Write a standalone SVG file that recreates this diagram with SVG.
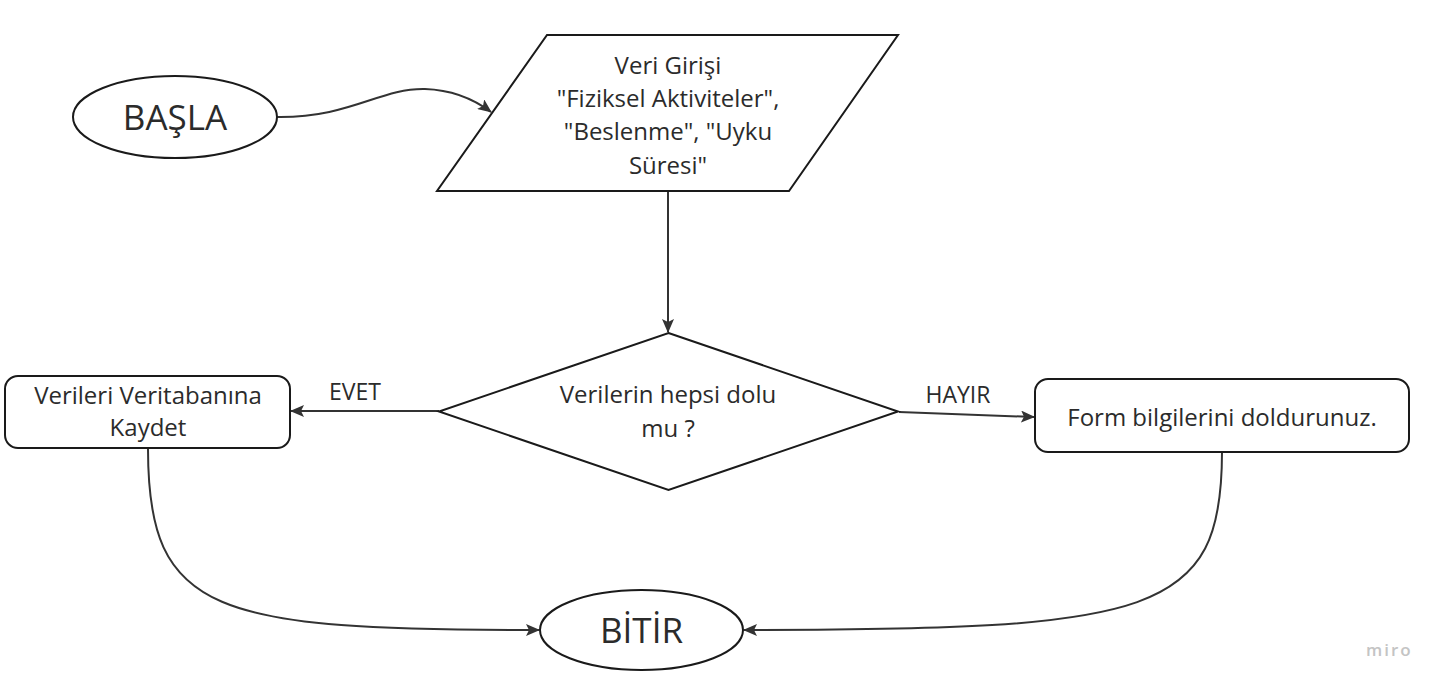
<svg xmlns="http://www.w3.org/2000/svg" width="1446" height="691" viewBox="0 0 1446 691">
<style>
.shape{fill:#ffffff;stroke:#1a1a1a;stroke-width:2}
.t{font-family:"Open Sans","Liberation Sans",sans-serif;font-size:24px;fill:#2b2b2b;text-anchor:middle}
.lbl{font-size:23px}
.big{font-size:35px}
.conn{fill:none;stroke:#333333;stroke-width:2}
.wm{font-family:"Open Sans","Liberation Sans",sans-serif;font-size:17px;font-weight:600;fill:#c4c4c4;letter-spacing:2px}
</style>
<defs>
<marker id="arr" viewBox="0 0 14 12" refX="13" refY="6" markerWidth="14" markerHeight="12" markerUnits="userSpaceOnUse" orient="auto">
<path d="M0,0 L14,6 L0,12 L3,6 Z" fill="#333333"/>
</marker>
</defs>
<rect width="1446" height="691" fill="#ffffff"/>
<g id="connectors">
<path class="conn" d="M277,117 C350,118 380,88 425,89 C455,90 475,100 491,112" marker-end="url(#arr)"/>
<path class="conn" d="M668,192 L668,332" marker-end="url(#arr)"/>
<path class="conn" d="M439,411 L291,411" marker-end="url(#arr)"/>
<path class="conn" d="M899,412 L1034,417" marker-end="url(#arr)"/>
<path class="conn" d="M148,449 C148,615 215,630 539,630" marker-end="url(#arr)"/>
<path class="conn" d="M1222,452 C1222,615 1155,630 744,630" marker-end="url(#arr)"/>
<text class="t lbl" x="355" y="400">EVET</text>
<text class="t lbl" x="958" y="403">HAYIR</text>
</g>
<g id="basla">
<ellipse class="shape" cx="175" cy="117" rx="102" ry="41"/>
<text class="t big" x="175" y="130">BAŞLA</text>
</g>
<g id="veri-girisi">
<polygon class="shape" points="547,35 898,35 789,191 437,191"/>
<text class="t" x="668" y="74">Veri Girişi</text>
<text class="t" x="668" y="107">"Fiziksel Aktiviteler",</text>
<text class="t" x="668" y="140">"Beslenme", "Uyku</text>
<text class="t" x="668" y="174">Süresi"</text>
</g>
<g id="karar">
<polygon class="shape" points="668.5,333 898,411.5 668.5,490 439,411.5"/>
<text class="t" x="668" y="403">Verilerin hepsi dolu</text>
<text class="t" x="668" y="437">mu ?</text>
</g>
<g id="kaydet">
<rect class="shape" x="5" y="376" width="285" height="72" rx="13"/>
<text class="t" x="148" y="404">Verileri Veritabanına</text>
<text class="t" x="148" y="436">Kaydet</text>
</g>
<g id="form">
<rect class="shape" x="1035" y="379" width="374" height="73" rx="13"/>
<text class="t" x="1222" y="426">Form bilgilerini doldurunuz.</text>
</g>
<g id="bitir">
<ellipse class="shape" cx="641.5" cy="630" rx="101.5" ry="40"/>
<text class="t big" x="641.5" y="643">BİTİR</text>
</g>
<text class="wm" x="1366" y="656">miro</text>
</svg>
